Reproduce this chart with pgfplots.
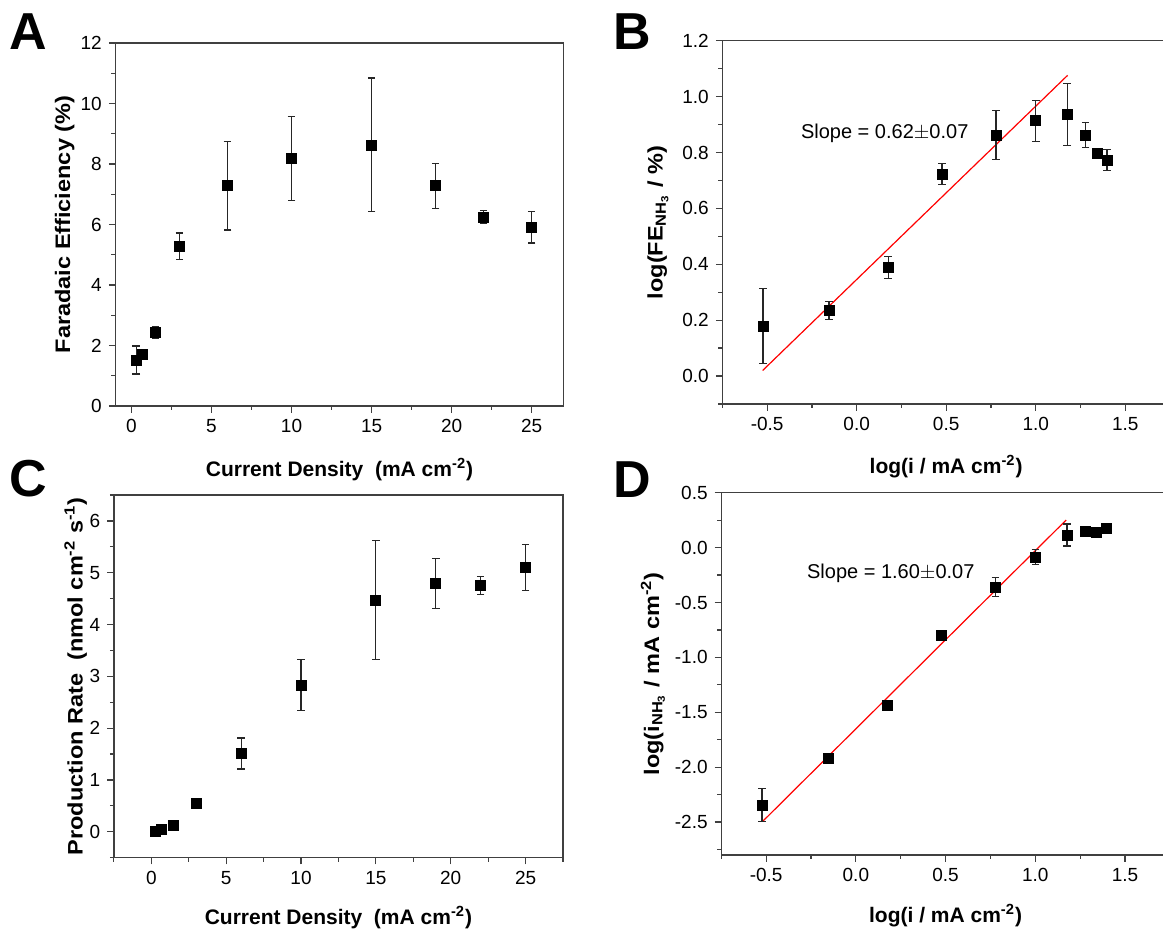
\documentclass[border=0pt]{standalone}
\usepackage{fontspec}
\setmainfont{Liberation Sans}
\newfontfamily\ylabfont[FakeStretch=1.12]{Liberation Sans}
\usepackage{pgfplots}
\pgfplotsset{compat=1.18}

\pgfplotsset{
  panel/.style={
    scale only axis,
    anchor=south west,
    axis line style={black!75, line width=0.7pt},
    tick align=outside,
    xtick pos=bottom, ytick pos=left,
    major tick length=3.3pt, minor tick length=2pt,
    every tick/.style={black!75, line width=0.6pt},
    tick label style={font=\fontsize{9.5}{11}\selectfont},
    xlabel style={font=\fontsize{10.5}{12}\selectfont\bfseries},
    ylabel style={font=\fontsize{10.5}{12}\selectfont\ylabfont\bfseries},
    /pgf/number format/assume math mode=true,
    clip=false,
  },
  pts/.style={only marks, mark=square*, mark size=2.5pt, black,
    mark options={fill=black, draw=black},
    error bars/.cd, y dir=both, y explicit,
    error bar style={line width=0.6pt, black!85},
    error mark options={rotate=90, mark size=1.9pt, line width=0.6pt, black!85}},
  fit/.style={red, line width=0.6pt, no marks},
}

\begin{document}
\begin{tikzpicture}
\begin{scope}
\clip (0,0) rectangle (581.5pt,465pt);

% A
\begin{axis}[panel, at={(57.7pt,262pt)}, width=224.15pt, height=181.5pt,
  xmin=-1, xmax=27, ymin=0, ymax=12,
  xtick={0,5,...,25}, minor xtick={2.5,7.5,...,22.5},
  ytick={0,2,...,12}, minor ytick={1,3,...,11},
  xlabel={Current Density\ \ (mA cm\textsuperscript{-2})},
  ylabel={Faradaic Efficiency (\%)},
  xlabel style={at={(axis description cs:0.5,-0.175)}, anchor=center},
  ylabel style={at={(axis description cs:-0.113,0.5)}, anchor=center},
]
\addplot[pts] coordinates {
  (0.3,1.52) +- (0,0.46)
  (0.7,1.72) +- (0,0.10)
  (1.5,2.44) +- (0,0.20)
  (3,5.28) +- (0,0.44)
  (6,7.28) +- (0,1.46)
  (10,8.19) +- (0,1.39)
  (15,8.63) +- (0,2.21)
  (19,7.28) +- (0,0.74)
  (22,6.25) +- (0,0.21)
  (25,5.91) +- (0,0.52)
};
\end{axis}

% B
\begin{axis}[panel, at={(361.2pt,263pt)}, width=223.8pt, height=181.65pt,
  xmin=-0.75, xmax=1.75, ymin=-0.1, ymax=1.2,
  xtick={-0.5,0,...,1.5}, minor xtick={-0.75,-0.25,...,1.75},
  ytick={0,0.2,...,1.2}, minor ytick={-0.1,0.1,...,1.1},
  xticklabel style={/pgf/number format/.cd, fixed, fixed zerofill, precision=1},
  yticklabel style={/pgf/number format/.cd, fixed, fixed zerofill, precision=1},
  xlabel={log(i / mA cm\textsuperscript{-2})},
  ylabel={log(FE\textsubscript{NH\textsubscript{3}} / \%)},
  xlabel style={at={(axis description cs:0.5,-0.173)}, anchor=center},
  ylabel style={at={(axis description cs:-0.144,0.5)}, anchor=center},
]
\addplot[fit] coordinates {(-0.525,0.020) (1.178,1.076)};
\addplot[pts] coordinates {
  (-0.523,0.179) +- (0,0.135)
  (-0.155,0.235) +- (0,0.033)
  (0.176,0.388) +- (0,0.040)
  (0.477,0.723) +- (0,0.037)
  (0.778,0.862) +- (0,0.088)
  (1.000,0.913) +- (0,0.074)
  (1.176,0.936) +- (0,0.112)
  (1.279,0.862) +- (0,0.044)
  (1.342,0.797) +- (0,0.012)
  (1.398,0.773) +- (0,0.038)
};
\node[anchor=west, inner sep=0pt, font=\fontsize{10}{12}\selectfont] at (axis cs:-0.313,0.869) {Slope = 0.62$\pm$0.07};
\end{axis}

% C
\begin{axis}[panel, at={(56.95pt,36.15pt)}, width=224.55pt, height=181.35pt,
  xmin=-2.5, xmax=27.5, ymin=-0.5, ymax=6.5,
  xtick={0,5,...,25}, minor xtick={-2.5,2.5,...,27.5},
  ytick={0,1,...,6}, minor ytick={-0.5,0.5,...,6.5},
  xlabel={Current Density\ \ (mA cm\textsuperscript{-2})},
  ylabel={Production Rate\ \ (nmol cm\textsuperscript{-2} s\textsuperscript{-1})},
  xlabel style={at={(axis description cs:0.5,-0.166)}, anchor=center},
  ylabel style={at={(axis description cs:-0.085,0.5)}, anchor=center},
]
\addplot[pts] coordinates {
  (0.3,0.01) +- (0,0.01)
  (0.7,0.04) +- (0,0.01)
  (1.5,0.12) +- (0,0.02)
  (3,0.55) +- (0,0.03)
  (6,1.51) +- (0,0.30)
  (10,2.83) +- (0,0.49)
  (15,4.47) +- (0,1.15)
  (19,4.79) +- (0,0.48)
  (22,4.75) +- (0,0.17)
  (25,5.10) +- (0,0.45)
};
\end{axis}

% D
\begin{axis}[panel, at={(360.65pt,37.5pt)}, width=224.3pt, height=181.15pt,
  xmin=-0.75, xmax=1.75, ymin=-2.8, ymax=0.5,
  xtick={-0.5,0,...,1.5}, minor xtick={-0.75,-0.25,...,1.75},
  ytick={-2.5,-2,...,0.5}, minor ytick={-2.75,-2.25,...,0.25},
  xticklabel style={/pgf/number format/.cd, fixed, fixed zerofill, precision=1},
  yticklabel style={/pgf/number format/.cd, fixed, fixed zerofill, precision=1},
  xlabel={log(i / mA cm\textsuperscript{-2})},
  ylabel={log(i\textsubscript{NH\textsubscript{3}} / mA cm\textsuperscript{-2})},
  xlabel style={at={(axis description cs:0.5,-0.166)}, anchor=center},
  ylabel style={at={(axis description cs:-0.1525,0.5)}, anchor=center},
]
\addplot[fit] coordinates {(-0.517,-2.49) (1.172,0.251)};
\addplot[pts] coordinates {
  (-0.523,-2.347) +- (0,0.150)
  (-0.155,-1.919) +- (0,0.020)
  (0.176,-1.436) +- (0,0.030)
  (0.477,-0.800) +- (0,0.020)
  (0.778,-0.359) +- (0,0.088)
  (1.000,-0.086) +- (0,0.068)
  (1.176,0.115) +- (0,0.100)
  (1.279,0.145) +- (0,0.010)
  (1.342,0.142) +- (0,0.010)
  (1.398,0.176) +- (0,0.010)
};
\node[anchor=west, inner sep=0pt, font=\fontsize{10}{12}\selectfont] at (axis cs:-0.274,-0.234) {Slope = 1.60$\pm$0.07};
\end{axis}

% panel letters
\node[anchor=base west, inner sep=0pt, font=\fontsize{26}{30}\selectfont\bfseries] at (4.5pt,440pt) {A};
\node[anchor=base west, inner sep=0pt, font=\fontsize{26}{30}\selectfont\bfseries] at (306.7pt,440pt) {B};
\node[anchor=base west, inner sep=0pt, font=\fontsize{26}{30}\selectfont\bfseries] at (4.7pt,216.5pt) {C};
\node[anchor=base west, inner sep=0pt, font=\fontsize{26}{30}\selectfont\bfseries] at (306.7pt,216pt) {D};
\end{scope}
\pgfresetboundingbox
\useasboundingbox (0,0) rectangle (581.5pt,465pt);
\end{tikzpicture}
\end{document}
